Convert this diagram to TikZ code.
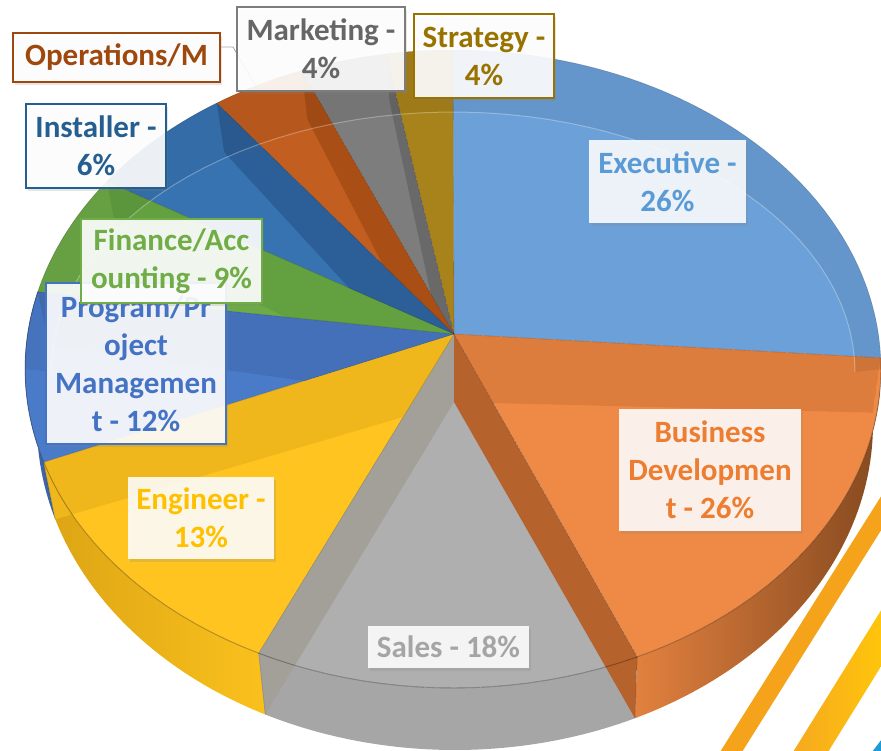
\documentclass[tikz,border=0pt]{standalone}
\usepackage{fontspec}
\setmainfont{Carlito}
\usetikzlibrary{shadows}
\definecolor{cExec}{HTML}{6BA0D8}
\definecolor{cExecT}{HTML}{5B9BD5}
\definecolor{cBus}{HTML}{EE8A46}
\definecolor{cBusB}{HTML}{DC7C3D}
\definecolor{cBusW}{HTML}{B6622C}
\definecolor{cBusS1}{HTML}{E2813F}
\definecolor{cBusS2}{HTML}{85491F}
\definecolor{cBusT}{HTML}{ED7D31}
\definecolor{cSal}{HTML}{AFAFAF}
\definecolor{cSalB}{HTML}{A3A09A}
\definecolor{cSalS}{HTML}{A6A6A6}
\definecolor{cSalT}{HTML}{A5A5A5}
\definecolor{cEng}{HTML}{FFC420}
\definecolor{cEngB}{HTML}{EFB71B}
\definecolor{cEngS1}{HTML}{DCA414}
\definecolor{cEngS2}{HTML}{FAC11D}
\definecolor{cEngT}{HTML}{FFC000}
\definecolor{cPrg}{HTML}{4A7BC9}
\definecolor{cPrgB}{HTML}{4470B9}
\definecolor{cPrgS}{HTML}{3C63A8}
\definecolor{cPrgT}{HTML}{4472C4}
\definecolor{cFin}{HTML}{6DAB47}
\definecolor{cFinB}{HTML}{62A040}
\definecolor{cFinT}{HTML}{70AD47}
\definecolor{cIns}{HTML}{3773B1}
\definecolor{cInsB}{HTML}{2C5F97}
\definecolor{cInsT}{HTML}{255E91}
\definecolor{cOps}{HTML}{C25E20}
\definecolor{cOpsB}{HTML}{A94F16}
\definecolor{cOpsT}{HTML}{9E480E}
\definecolor{cMkt}{HTML}{7D7D7D}
\definecolor{cMktB}{HTML}{696969}
\definecolor{cMktT}{HTML}{666666}
\definecolor{cStr}{HTML}{A8821A}
\definecolor{cStrT}{HTML}{997300}
\definecolor{cStripeA}{HTML}{F6A31C}
\definecolor{cStripeB}{HTML}{F6A91F}
\definecolor{cStripeC}{HTML}{FFC60B}
\definecolor{cBlueC}{HTML}{1E9BD7}

\newcommand\pieTop[3]{\path[#1] (A) -- plot[domain=#2:#3,samples=48] ({453+428*cos(\x)},{369-319*sin(\x)}) -- cycle;}
\newcommand\pieSide[3]{\path[#1] plot[domain=#2:#3,samples=48] ({453+428*cos(\x)},{369-319*sin(\x)}) -- plot[domain=#3:#2,samples=48] ({455+418*cos(\x)},{424-326*sin(\x)}) -- cycle;}
\newcommand\pieBandIn[4]{\begin{scope}
 \clip (A) -- plot[domain=#2:#3,samples=48] ({453+428*cos(\x)},{369-319*sin(\x)}) -- cycle;
 \path[#1] (A) -- (T#4) -- (B#4) -- (Bap) -- cycle;
 \end{scope}}
\newcommand\pieBandFront[4]{\begin{scope}
 \clip (A) -- ({453+428*cos(#2)},{369-319*sin(#2)}) -- plot[domain=#2:#3,samples=48] ({455+418*cos(\x)},{424-326*sin(\x)}) -- ({453+428*cos(#3)},{369-319*sin(#3)}) -- cycle;
 \path[#1] (A) -- (T#4) -- (B#4) -- (Bap) -- cycle;
 \end{scope}}

\begin{document}
\begin{tikzpicture}[x=1pt,y=-1pt,
  lab/.style={font=\fontsize{31}{38}\selectfont\bfseries, align=center, inner sep=0pt,
    fill=white, text opacity=1,
    drop shadow={opacity=0.2, shadow xshift=2pt, shadow yshift=-3pt}},
  outlab/.style={lab, fill opacity=0.9, line width=2pt},
  inlab/.style={lab, fill opacity=0.88},
  leader/.style={draw=black!35, line width=0.8pt},
  edge/.style={draw=black, draw opacity=0.18, line width=0.6pt},
  rimline/.style={draw=black, draw opacity=0.3, line width=0.9pt}]
\useasboundingbox (0,0) rectangle (881,750);
\coordinate (A) at (454,334);
\coordinate (Bap) at (454,402);
\foreach \n/\t in {se/90,sm/99,mo/110.7,oi/123.5,if/144,fp/166,pe/-163,es/-117,sb/-64.5,be/2}{
  \coordinate (T\n) at ({453+428*cos(\t)},{369-319*sin(\t)});
  \coordinate (B\n) at ({455+418*cos(\t)},{424-326*sin(\t)});
}

% decorative stripes
\begin{scope}
\clip (0,0) rectangle (881,750);
\fill[cStripeA] (720,752) -- (742,752) -- (885,524) -- (885,490) -- cycle;
\shade[left color=cStripeB, right color=cStripeC] (793,752) -- (828,752) -- (885,660) -- (885,604) -- cycle;
\fill[cBlueC] (872,752) -- (885,752) -- (885,735) -- cycle;
\end{scope}

% outer side walls
\pieSide{fill=cPrgS}{-194}{-163}
\pieSide{left color=cEngS1,right color=cEngS2}{-163}{-117}
\pieSide{fill=cSalS}{-117}{-64.5}
\pieSide{left color=cBusS1,right color=cBusS2}{-64.5}{2}

% top faces
\pieTop{fill=cExec}{2}{90}
\pieTop{fill=cBus}{-64.5}{2}
\pieTop{fill=cSal}{-117}{-64.5}
\pieTop{fill=cEng}{-163}{-117}
\pieTop{fill=cPrg}{-194}{-163}
\pieTop{fill=cFin}{144}{166}
\pieTop{fill=cIns}{123.5}{144}
\pieTop{fill=cOps}{110.7}{123.5}
\pieTop{fill=cMkt}{99}{110.7}
\pieTop{fill=cStr}{90}{99}

% inner radial walls seen through the faces
\pieBandFront{fill=cBusB}{-64.5}{2}{be}
\pieBandFront{fill=cSalB}{-117}{-64.5}{es}
\pieBandFront{fill=cBusW}{-117}{-64.5}{sb}
\pieBandFront{fill=cEngB}{-163}{-117}{pe}
\pieBandIn{fill=cPrgB}{-194}{-163}{fp}
\pieBandIn{fill=cFinB}{144}{166}{if}
\pieBandIn{fill=cInsB}{123.5}{144}{oi}
\pieBandIn{fill=cOpsB}{110.7}{123.5}{mo}
\pieBandIn{fill=cMktB}{99}{110.7}{sm}

% bevel ring at the back
\fill[black, opacity=0.06] plot[domain=0:180,samples=60] ({453+428*cos(\x)},{369-319*sin(\x)}) -- plot[domain=180:0,samples=60] ({453+402*cos(\x)},{372-260*sin(\x)}) -- cycle;
\draw[white, opacity=0.3, line width=1pt] plot[domain=0:180,samples=60] ({453+402*cos(\x)},{372-260*sin(\x)});

% edges
\foreach \n in {se,sm,mo,oi,if,fp,pe,es,sb,be} \draw[edge] (A) -- (T\n);
\foreach \n in {pe,es,sb} \draw[edge] (T\n) -- (B\n);
\draw[edge] plot[domain=2:166,samples=80] ({453+428*cos(\x)},{369-319*sin(\x)});
\draw[rimline] plot[domain=-194:2,samples=80] ({453+428*cos(\x)},{369-319*sin(\x)});

% labels
\coordinate (opsbend) at (233,47);
\coordinate (opsend) at (256,86);
\node[outlab, draw=cOpsT, text=cOpsT, minimum width=207, minimum height=49] (ops) at (116.5,57.5) {Operations/M};
\draw[leader] ([yshift=10.5pt]ops.east) -- (opsbend) -- (opsend);
\node[outlab, draw=cMktT!85, text=cMktT, minimum width=168, minimum height=84] (mkt) at (321,49) {Marketing -\\4\%};
\node[outlab, draw=cStrT, text=cStrT, minimum width=140, minimum height=84] (str) at (484,56) {Strategy -\\4\%};
\node[outlab, draw=cInsT, text=cInsT, minimum width=140, minimum height=84] (ins) at (96,146) {Installer -\\6\%};
\node[outlab, draw=cPrgT, text=cPrgT, minimum width=180, minimum height=161] (prg) at (136,363.5) {Program/Pr\\oject\\Managemen\\t - 12\%};
\node[outlab, draw=cFinT, text=cFinT, minimum width=181, minimum height=84] (fin) at (171.5,261) {Finance/Acc\\ounting - 9\%};
\node[inlab, text=cExecT, minimum width=157, minimum height=83] (exe) at (667.5,181.5) {Executive -\\26\%};
\node[inlab, text=cBusT, minimum width=182, minimum height=122] (bus) at (710,470) {Business\\Developmen\\t - 26\%};
\node[inlab, text=cEngT, minimum width=146, minimum height=82] (eng) at (201,518) {Engineer -\\13\%};
\node[inlab, text=cSalT, minimum width=161, minimum height=42] (sal) at (448.5,647) {Sales - 18\%};
\end{tikzpicture}
\end{document}
